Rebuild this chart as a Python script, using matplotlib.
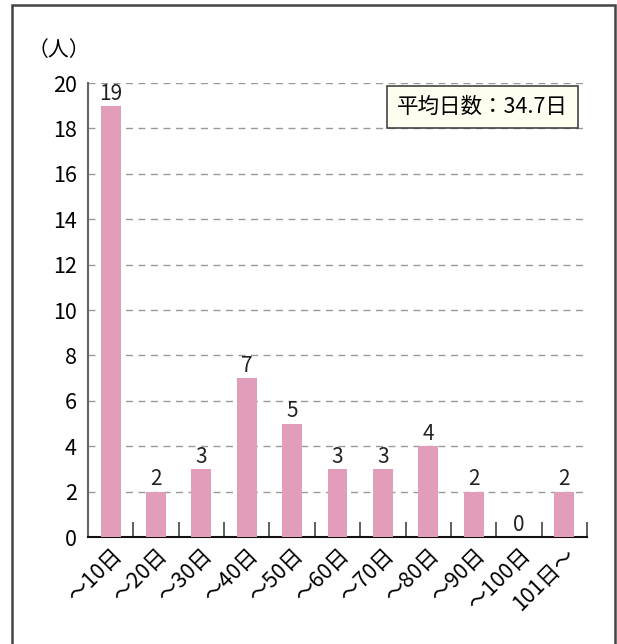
import matplotlib.pyplot as plt
from matplotlib.patches import Rectangle
from matplotlib.ticker import FixedLocator

plt.rcParams['font.family'] = ['Noto Sans CJK JP', 'DejaVu Sans']

# 日数区分ごとの人数
categories = ['〜10日', '〜20日', '〜30日', '〜40日', '〜50日', '〜60日',
              '〜70日', '〜80日', '〜90日', '〜100日', '101日〜']
counts = [19, 2, 3, 7, 5, 3, 3, 4, 2, 0, 2]
average_days = 34.7

fig = plt.figure(figsize=(6.17, 6.44), dpi=100)
ax = fig.add_axes([0.1426, 0.1661, 0.8088, 0.705])

x = list(range(len(categories)))
ax.bar(x, counts, width=0.44, color='#E19DBA', zorder=3)

for xi, c in zip(x, counts):
    ax.text(xi, c + 0.05, str(c), ha='center', va='bottom', fontsize=15, color='#222222')

ax.set_xlim(-0.5, len(categories) - 0.5)
ax.set_ylim(0, 20)
ax.set_yticks(range(0, 21, 2))
ax.tick_params(axis='y', length=0, labelsize=15.5, pad=8)
ax.yaxis.grid(True, linestyle=(0, (5, 4)), color='#999999', linewidth=1, zorder=0)

# カテゴリ境界に内向きの目盛り
ax.set_xticks(x)
ax.set_xticklabels(categories, rotation=45, ha='right', rotation_mode='anchor', fontsize=15.5)
ax.tick_params(axis='x', which='major', length=0, pad=5)
ax.xaxis.set_minor_locator(FixedLocator([i + 0.5 for i in x]))
ax.tick_params(axis='x', which='minor', direction='in', length=11, width=1.2, color='#444444')

for s in ['top', 'right']:
    ax.spines[s].set_visible(False)
ax.spines['left'].set_color('#666666')
ax.spines['left'].set_linewidth(1.5)
ax.spines['bottom'].set_color('#111111')
ax.spines['bottom'].set_linewidth(1.5)

fig.text(28 / 617, 1 - 50 / 644, '（人）', fontsize=15, ha='left', va='center')

ax.text(0.962, 0.947, f'平均日数：{average_days}日', transform=ax.transAxes,
        ha='right', va='center', fontsize=15.5,
        bbox=dict(boxstyle='square,pad=0.45', facecolor='#FFFDEF', edgecolor='#444444', linewidth=1.2))

# 外枠
fig.patches.append(Rectangle((12 / 617, -0.05), 603 / 617, 1.05 - 5 / 644,
                             transform=fig.transFigure, fill=False,
                             edgecolor='#444444', linewidth=1.8))

fig.savefig('out.png', dpi=100)
